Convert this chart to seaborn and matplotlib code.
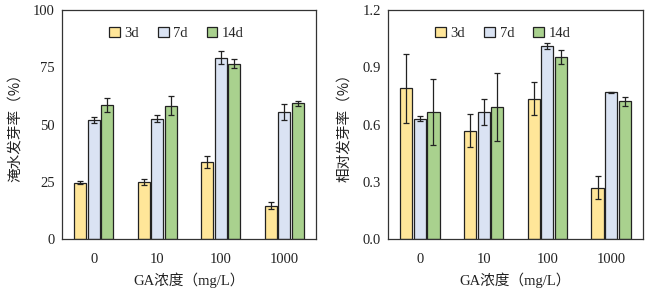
import matplotlib
matplotlib.use("Agg")
import matplotlib.pyplot as plt
import seaborn as sns
import pandas as pd

sns.set_style("white")
plt.rcParams['font.family'] = ['Liberation Serif', 'Noto Sans CJK SC']

concs = ["0", "10", "100", "1000"]
days = ["3d", "7d", "14d"]

# Left panel: flooding germination rate (%)
flood_3d = [24.5, 24.9, 33.5, 14.6]
flood_7d = [51.9, 52.6, 79.2, 55.5]
flood_14d = [58.5, 58.2, 76.5, 59.2]
flood_3d_err = [0.7, 1.5, 2.7, 1.4]
flood_7d_err = [1.4, 1.6, 2.9, 3.6]
flood_14d_err = [2.9, 4.1, 1.9, 1.2]

# Right panel: relative germination rate
rel_3d = [0.789, 0.568, 0.735, 0.268]
rel_7d = [0.631, 0.665, 1.013, 0.768]
rel_14d = [0.666, 0.691, 0.952, 0.721]
rel_3d_err = [0.182, 0.086, 0.087, 0.060]
rel_7d_err = [0.011, 0.070, 0.016, 0.004]
rel_14d_err = [0.172, 0.180, 0.037, 0.022]

colors = ["#FFE699", "#DAE3F3", "#A9D18E"]
serif = ['Liberation Serif', 'Noto Sans CJK SC']


def build(vals, errs):
    rows = []
    for d, v, e in zip(days, vals, errs):
        for c, vi, ei in zip(concs, v, e):
            rows.append({"conc": c, "day": d, "val": vi, "err": ei})
    return pd.DataFrame(rows)


fig = plt.figure(figsize=(6.49, 2.92), dpi=100)
ax1 = fig.add_axes([62 / 649, 1 - 239 / 292, 254 / 649, 229 / 292])
ax2 = fig.add_axes([388 / 649, 1 - 239 / 292, 255 / 649, 229 / 292])

panels = [
    (ax1, build([flood_3d, flood_7d, flood_14d], [flood_3d_err, flood_7d_err, flood_14d_err]),
     (0, 100), [0, 25, 50, 75, 100], ["0", "25", "50", "75", "100"], "淹水发芽率（%）"),
    (ax2, build([rel_3d, rel_7d, rel_14d], [rel_3d_err, rel_7d_err, rel_14d_err]),
     (0, 1.2), [0, 0.3, 0.6, 0.9, 1.2], ["0.0", "0.3", "0.6", "0.9", "1.2"], "相对发芽率（%）"),
]

for ax, df, ylim, yt, ytl, ylab in panels:
    sns.barplot(data=df, x="conc", y="val", hue="day", order=concs, hue_order=days,
                palette=colors, edgecolor="#222222", linewidth=0.9, width=0.64, gap=0.1,
                errorbar=None, ax=ax, saturation=1)
    for cont, d in zip(ax.containers, days):
        sub = df[df["day"] == d].set_index("conc").loc[concs]
        xs = [b.get_x() + b.get_width() / 2 for b in cont]
        ax.errorbar(xs, sub["val"].values, yerr=sub["err"].values, fmt="none",
                    ecolor="#222222", elinewidth=0.9, capsize=2.5, capthick=0.9, zorder=5)
    ax.set_xlim(-0.5, 3.5)
    ax.set_ylim(*ylim)
    ax.set_yticks(yt)
    ax.set_yticklabels(ytl, fontsize=10.5, family=serif)
    ax.set_xticks(range(4))
    ax.set_xticklabels(concs, fontsize=10.5, family=serif)
    ax.tick_params(axis="y", direction="in", length=3, width=0.8, pad=5, colors="#222222")
    ax.tick_params(axis="x", length=0, pad=10, colors="#222222")
    for s in ax.spines.values():
        s.set_visible(True)
        s.set_color("#333333")
        s.set_linewidth(0.9)
    ax.set_xlabel("GA浓度（mg/L）", fontsize=10.5, family=serif, labelpad=5, color="#222222")
    ax.set_ylabel(ylab, fontsize=10.5, family=['Noto Sans CJK SC'], labelpad=8, color="#222222")
    leg = ax.legend(loc="upper center", bbox_to_anchor=(0.45, 0.985), ncol=3, frameon=False,
                    handlelength=0.75, handleheight=0.75, handletextpad=0.3, columnspacing=1.3,
                    prop={"family": serif, "size": 10.5})
    for h in leg.legend_handles:
        h.set_edgecolor("#222222")
        h.set_linewidth(0.9)

fig.savefig("out.png", dpi=100)
